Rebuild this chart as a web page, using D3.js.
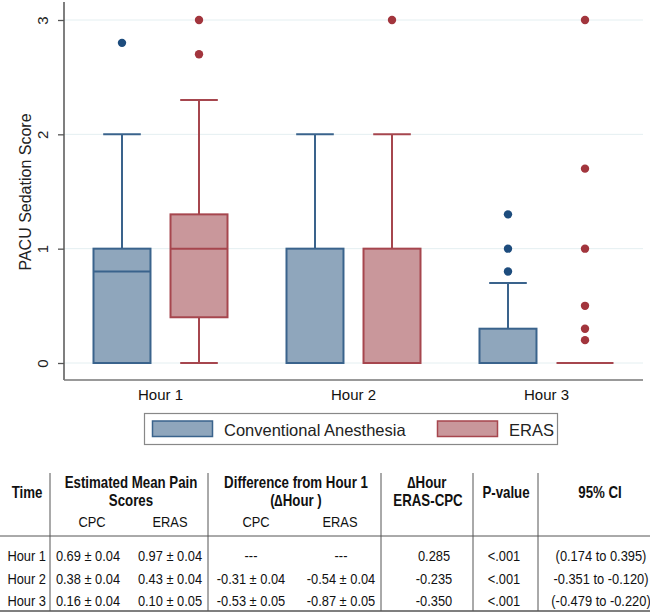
<!DOCTYPE html>
<html>
<head>
<meta charset="utf-8">
<script src="https://cdn.jsdelivr.net/npm/d3@7"></script>
<style>
  body { margin: 0; background: #fff; }
  svg { display: block; font-family: "Liberation Sans", Arial, sans-serif; }
</style>
</head>
<body>
<svg id="chart" width="650" height="613"></svg>
<script>
// ---- data ----
const hours = ["Hour 1", "Hour 2", "Hour 3"];
const groups = ["Conventional Anesthesia", "ERAS"];
const yTicks = [0, 1, 2, 3];

// box stats per hour: [low whisker, q1, median, q3, high whisker]
const cpcBoxes = [[0, 0, 0.8, 1, 2], [0, 0, 0, 1, 2], [0, 0, 0, 0.3, 0.7]];
const erasBoxes = [[0, 0.4, 1, 1.3, 2.3], [0, 0, 0, 1, 2], [0, 0, 0, 0, 0]];
const cpcOutliers = [[2.8], [], [0.8, 1, 1.3]];
const erasOutliers = [[3, 2.7], [3], [3, 1.7, 1, 0.5, 0.3, 0.2]];

// table below the chart
const rowLabels = ["Hour 1", "Hour 2", "Hour 3"];
const meanCpc = ["0.69 ± 0.04", "0.38 ± 0.04", "0.16 ± 0.04"];
const meanEras = ["0.97 ± 0.04", "0.43 ± 0.04", "0.10 ± 0.05"];
const diffCpc = ["---", "-0.31 ± 0.04", "-0.53 ± 0.05"];
const diffEras = ["---", "-0.54 ± 0.04", "-0.87 ± 0.05"];
const deltaHour = ["0.285", "-0.235", "-0.350"];
const pValues = ["<.001", "<.001", "<.001"];
const ciText = ["(0.174 to 0.395)", "-0.351 to -0.120)", "(-0.479 to -0.220)"];

const colors = {
  "Conventional Anesthesia": { fill: "#8fa6bc", stroke: "#3a638c", dot: "#1d4c7d" },
  "ERAS": { fill: "#c9979b", stroke: "#a6464e", dot: "#a2353d" }
};

const svg = d3.select("#chart");

// plot area
const left = 64, right = 643, bottom = 380;
const x = d3.scaleBand().domain(hours).range([left, right]);
const xInner = d3.scaleBand().domain(groups).range([0, x.bandwidth()])
  .paddingInner(0.26).paddingOuter(0.383);
const y = d3.scaleLinear().domain([0, 3]).range([363, 20]);

// faint gridlines
svg.append("g")
  .selectAll("line")
  .data(yTicks)
  .join("line")
  .attr("x1", left).attr("x2", right)
  .attr("y1", d => y(d)).attr("y2", d => y(d))
  .attr("stroke", "#e4eff1").attr("stroke-width", 1);

// y axis
const yAxis = svg.append("g")
  .attr("transform", `translate(${left},0)`)
  .call(d3.axisLeft(y).tickValues(yTicks).tickFormat(d3.format("d")).tickSize(6).tickSizeOuter(0));
yAxis.select(".domain").remove();
yAxis.selectAll(".tick line").attr("stroke", "#555").attr("stroke-width", 1.3);
yAxis.selectAll(".tick text")
  .attr("x", 0).attr("dy", "0.35em")
  .attr("transform", "translate(-21,0) rotate(-90)")
  .attr("text-anchor", "middle")
  .attr("font-size", 15)
  .attr("fill", "#222");

// x axis
const xAxis = svg.append("g")
  .attr("transform", `translate(0,${bottom})`)
  .call(d3.axisBottom(x).tickSize(0).tickPadding(9));
xAxis.select(".domain").remove();
xAxis.selectAll(".tick text").attr("font-size", 15).attr("fill", "#111");

// axis lines
svg.append("line").attr("x1", left).attr("x2", left).attr("y1", 2).attr("y2", bottom)
  .attr("stroke", "#555").attr("stroke-width", 1.5);
svg.append("line").attr("x1", left).attr("x2", right).attr("y1", bottom).attr("y2", bottom)
  .attr("stroke", "#777").attr("stroke-width", 1.5);

svg.append("text")
  .attr("transform", "translate(25,192) rotate(-90)")
  .attr("text-anchor", "middle")
  .attr("dy", "0.35em")
  .attr("font-size", 16)
  .attr("fill", "#222")
  .text("PACU Sedation Score");

// boxes
const boxData = [];
hours.forEach((h, i) => {
  boxData.push({ hour: h, group: groups[0], s: cpcBoxes[i], out: cpcOutliers[i] });
  boxData.push({ hour: h, group: groups[1], s: erasBoxes[i], out: erasOutliers[i] });
});

const bw = xInner.bandwidth();
const cap = bw * 0.66;

const box = svg.append("g")
  .selectAll("g")
  .data(boxData)
  .join("g")
  .attr("transform", d => `translate(${x(d.hour) + xInner(d.group)},0)`);

// whiskers
box.append("line")
  .attr("x1", bw / 2).attr("x2", bw / 2)
  .attr("y1", d => y(d.s[3])).attr("y2", d => y(d.s[4]))
  .attr("stroke", d => colors[d.group].stroke).attr("stroke-width", 2);
box.append("line")
  .attr("x1", bw / 2).attr("x2", bw / 2)
  .attr("y1", d => y(d.s[1])).attr("y2", d => y(d.s[0]))
  .attr("stroke", d => colors[d.group].stroke).attr("stroke-width", 2);
box.selectAll(".cap")
  .data(d => [d.s[0], d.s[4]].map(v => ({ v, group: d.group })))
  .join("line")
  .attr("class", "cap")
  .attr("x1", (bw - cap) / 2).attr("x2", (bw + cap) / 2)
  .attr("y1", d => y(d.v)).attr("y2", d => y(d.v))
  .attr("stroke", d => colors[d.group].stroke).attr("stroke-width", 2);

box.append("rect")
  .attr("x", 0).attr("width", bw)
  .attr("y", d => y(d.s[3]))
  .attr("height", d => y(d.s[1]) - y(d.s[3]))
  .attr("fill", d => colors[d.group].fill)
  .attr("stroke", d => colors[d.group].stroke)
  .attr("stroke-width", 2);

box.append("line")
  .attr("x1", 0).attr("x2", bw)
  .attr("y1", d => y(d.s[2])).attr("y2", d => y(d.s[2]))
  .attr("stroke", d => colors[d.group].stroke).attr("stroke-width", 2);

box.selectAll("circle")
  .data(d => d.out.map(v => ({ v, group: d.group })))
  .join("circle")
  .attr("cx", bw / 2)
  .attr("cy", d => y(d.v))
  .attr("r", 4.2)
  .attr("fill", d => colors[d.group].dot);

// legend
const legend = svg.append("g");
legend.append("rect")
  .attr("x", 144.5).attr("y", 413.5).attr("width", 413).attr("height", 31)
  .attr("fill", "#fff").attr("stroke", "#888").attr("stroke-width", 1.2);
const legendX = [152, 437];
groups.forEach((g, i) => {
  legend.append("rect")
    .attr("x", legendX[i] + 0.5).attr("y", 421).attr("width", 60).attr("height", 15.5)
    .attr("fill", colors[g].fill).attr("stroke", colors[g].stroke).attr("stroke-width", 1.5);
  legend.append("text")
    .attr("x", legendX[i] + 72).attr("y", 435.5)
    .attr("font-size", 16.5).attr("fill", "#222")
    .text(g);
});

// ---- table ----
// the table uses a condensed face; squeeze regular glyphs horizontally
const narrow = 0.83;
const table = svg.append("g").attr("fill", "#111");
const sepX = [50, 208, 381, 473, 538];
table.selectAll(".sep")
  .data(sepX)
  .join("line")
  .attr("x1", d => d).attr("x2", d => d)
  .attr("y1", 473).attr("y2", 611)
  .attr("stroke", "#555").attr("stroke-width", 1);
table.append("line").attr("x1", 0).attr("x2", 650).attr("y1", 536).attr("y2", 536)
  .attr("stroke", "#555").attr("stroke-width", 1);
table.append("line").attr("x1", 0).attr("x2", 650).attr("y1", 611).attr("y2", 611)
  .attr("stroke", "#555").attr("stroke-width", 1.5);

function cell(t, cx, cy, opts = {}) {
  table.append("text")
    .attr("transform", `translate(${cx},${cy}) scale(${narrow},1)`)
    .attr("text-anchor", opts.anchor || "middle")
    .attr("font-size", opts.bold ? 16 : 15.5)
    .attr("font-weight", opts.bold ? "bold" : "normal")
    .text(t);
}

const headers = [
  { t: "Time", x: 27, y: 498, b: true },
  { t: "Estimated Mean Pain", x: 131, y: 488, b: true },
  { t: "Scores", x: 131, y: 506, b: true },
  { t: "Difference from Hour 1", x: 296, y: 488, b: true },
  { t: "(∆Hour )", x: 296, y: 506, b: true },
  { t: "∆Hour", x: 427, y: 488, b: true },
  { t: "ERAS-CPC", x: 428, y: 506, b: true },
  { t: "P-value", x: 506, y: 498, b: true },
  { t: "95% CI", x: 600, y: 498, b: true },
  { t: "CPC", x: 92, y: 527, b: false },
  { t: "ERAS", x: 170, y: 527, b: false },
  { t: "CPC", x: 256, y: 527, b: false },
  { t: "ERAS", x: 340, y: 527, b: false }
];
headers.forEach(h => cell(h.t, h.x, h.y, { bold: h.b }));

const rowY = [561, 584, 606];
const cols = [
  { vals: meanCpc, x: 88 },
  { vals: meanEras, x: 170 },
  { vals: diffCpc, x: 251 },
  { vals: diffEras, x: 341 },
  { vals: deltaHour, x: 434 },
  { vals: pValues, x: 504 },
  { vals: ciText, x: 601 }
];
rowLabels.forEach((r, i) => {
  cell(r, 46, rowY[i], { anchor: "end" });
  cols.forEach(c => cell(c.vals[i], c.x, rowY[i]));
});
</script>
</body>
</html>
